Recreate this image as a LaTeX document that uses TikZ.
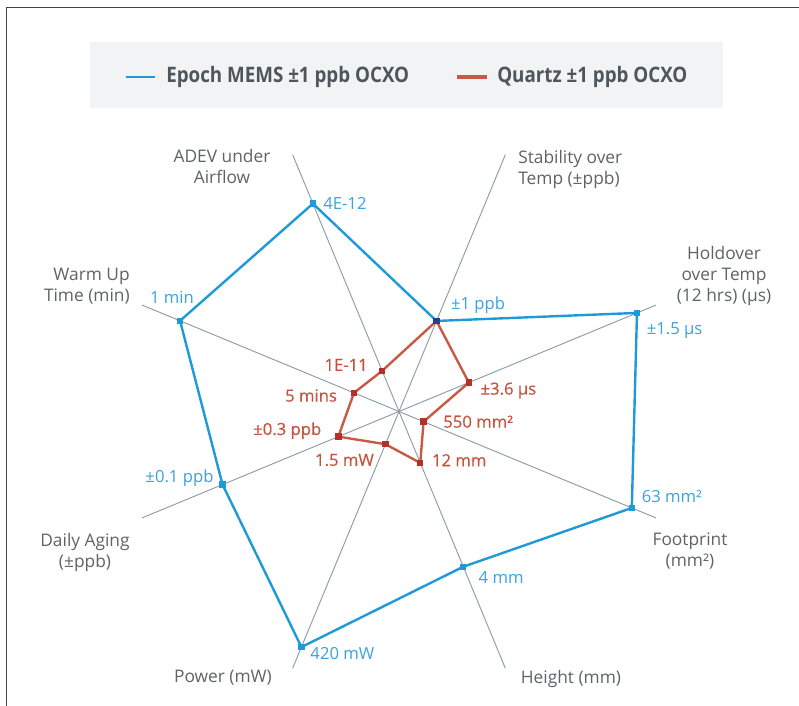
\documentclass[tikz,border=0pt]{standalone}
\usepackage{fontspec}
\setmainfont{Open Sans}
\newfontfamily\legendfont[FakeStretch=0.88]{Open Sans}
\newfontfamily\quartzfont[FakeBold=0.4]{Open Sans}
\usetikzlibrary{positioning,backgrounds}

\definecolor{epochblue}{HTML}{1E9AD8}
\definecolor{epochtext}{HTML}{3AA2DC}
\definecolor{quartzred}{HTML}{C75A44}
\definecolor{quartztext}{HTML}{C6533D}
\definecolor{quartzdot}{HTML}{B3302C}
\definecolor{overlapdot}{HTML}{2B3D8E}
\definecolor{axisgray}{HTML}{8C9CA3}
\definecolor{labelgray}{HTML}{5D6368}
\definecolor{legendfill}{HTML}{F2F3F4}
\definecolor{legendtext}{HTML}{4C565C}
\definecolor{framegray}{HTML}{444444}

\begin{document}
\begin{tikzpicture}[x=0.75pt,y=0.75pt,
    axis/.style={axisgray,line width=0.7pt},
    epoch/.style={epochblue,line width=1.8pt},
    quartz/.style={quartzred,line width=1.8pt},
    bpt/.style={rectangle,fill=epochblue,minimum size=4.8pt,inner sep=0pt},
    qpt/.style={rectangle,fill=quartzdot,minimum size=4.8pt,inner sep=0pt},
    blbl/.style={text=epochtext,font=\fontsize{12.5}{14}\selectfont,inner sep=1pt},
    qlbl/.style={text=quartztext,font=\quartzfont\fontsize{12.5}{14}\selectfont,inner sep=1pt},
    axlbl/.style={text=labelgray,font=\fontsize{13}{15.75}\selectfont,inner sep=0pt}]

\useasboundingbox (-399,-294.5) rectangle (400,411.5);

% frame
\draw[framegray,line width=1.1pt] (-392.5,-294.5) -- (-392.5,404) -- (400,404);

% legend
\node[fill=legendfill,minimum width=474.75pt,minimum height=49.5pt,inner sep=0pt] (legend) at (7.5,336.5) {};
\coordinate (bl1) at (-273,334.5);
\coordinate (bl2) at (-244,334.5);
\coordinate (rl1) at (58,334.5);
\coordinate (rl2) at (88,334.5);
\draw[epochblue,line width=1.5pt] (bl1) -- (bl2);
\draw[quartzred,line width=2.3pt] (rl1) -- (rl2);
\node[anchor=west,text=legendtext,font=\legendfont\bfseries\fontsize{16}{18}\selectfont,inner sep=0pt] (epochkey) at (-233,334.5) {Epoch MEMS ±1 ppb OCXO};
\node[anchor=west,text=legendtext,font=\legendfont\bfseries\fontsize{16}{18}\selectfont,inner sep=0pt] (quartzkey) at (98,334.5) {Quartz ±1 ppb OCXO};

% axis labels
\node[axlbl,align=center] (lAdev) at (-177,245) {ADEV under\\Airflow};
\node[axlbl,align=left,anchor=west] (lStab) at (119,242) {Stability over\\Temp (±ppb)};
\node[axlbl,align=center] (lHold) at (325,135) {Holdover\\over Temp\\(12 hrs) (µs)};
\node[axlbl,align=right,anchor=east] (lWarm) at (-269,125.5) {Warm Up\\Time (min)};
\node[axlbl,align=center] (lDaily) at (-314,-141) {Daily Aging\\(±ppb)};
\node[axlbl] (lPower) at (-176,-266.5) {Power (mW)};
\node[axlbl] (lHeight) at (172,-267.5) {Height (mm)};
\node[axlbl,align=center] (lFoot) at (291,-139.5) {Footprint\\(mm²)};

% Epoch MEMS values
\node[bpt,label={[blbl,label distance=5pt]below right:±1.5 µs}] (eHold) at (22.5:257.6) {};
\node[bpt,label={[blbl,label distance=3pt,xshift=5pt]above right:±1 ppb}] (eStab) at (67.5:98) {};
\node[bpt,label={[blbl,label distance=4pt]right:4E-12}] (eAdev) at (112.5:225) {};
\node[bpt,label={[blbl,label distance=9pt,xshift=-6pt]above:1 min}] (eWarm) at (157.5:237) {};
\node[bpt,label={[blbl,label distance=3pt,yshift=4.5pt]left:±0.1 ppb}] (eDaily) at (202.5:191) {};
\node[bpt,label={[blbl,label distance=3pt,yshift=-4.5pt]right:420 mW}] (ePower) at (247.5:255) {};
\node[bpt,label={[blbl,label distance=8pt]-15:4 mm}] (eHeight) at (292.5:168) {};
\node[bpt,label={[blbl,label distance=4pt]22:63 mm²}] (eFoot) at (337.5:252) {};

% Quartz values
\node[qpt,label={[qlbl,label distance=5pt,yshift=-6pt]right:±3.6 µs}] (qHold) at (22.5:75.6) {};
\node[rectangle,fill=overlapdot,minimum size=4.8pt,inner sep=0pt] (qStab) at (67.5:98) {};
\node[qpt,label={[qlbl,label distance=7pt,yshift=4.5pt]left:1E-11}] (qAdev) at (112.5:44) {};
\node[qpt,label={[qlbl,label distance=9pt,yshift=-2pt]left:5 mins}] (qWarm) at (157.5:48.7) {};
\node[qpt,label={[qlbl,label distance=9pt,yshift=4.5pt]left:±0.3 ppb}] (qDaily) at (202.5:65.7) {};
\node[qpt,label={[qlbl,label distance=4pt,xshift=-4pt]-120:1.5 mW}] (qPower) at (247.5:35.4) {};
\node[qpt,label={[qlbl,label distance=5pt,yshift=2pt]right:12 mm}] (qHeight) at (292.5:55.6) {};
\node[qpt,label={[qlbl,label distance=11pt]0:550 mm²}] (qFoot) at (337.5:26.6) {};

\begin{scope}[on background layer]
\foreach \a in {22.5,67.5,112.5,157.5}
  \draw[axis] (\a:278) -- (\a+180:278);
\draw[epoch] (eHold.center) -- (eStab.center) -- (eAdev.center) -- (eWarm.center)
  -- (eDaily.center) -- (ePower.center) -- (eHeight.center) -- (eFoot.center) -- cycle;
\draw[quartz] (qHold.center) -- (qStab.center) -- (qAdev.center) -- (qWarm.center)
  -- (qDaily.center) -- (qPower.center) -- (qHeight.center) -- (qFoot.center) -- cycle;
\end{scope}
\end{tikzpicture}
\end{document}
